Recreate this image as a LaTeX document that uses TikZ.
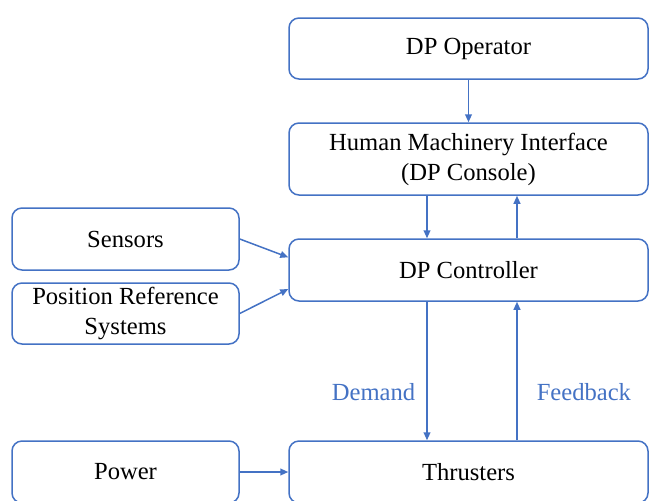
\documentclass[tikz,border=0pt]{standalone}
\usepackage{fontspec}
\setmainfont{Liberation Serif}
\usetikzlibrary{arrows.meta,calc}
\definecolor{dpblue}{HTML}{4472C4}
\tikzset{
  block/.style={draw=dpblue, line width=0.75pt, rounded corners=5pt, align=center,
    inner sep=0pt, font=\fontsize{12.3}{15}\selectfont},
  link/.style={draw=dpblue, line width=0.75pt, -{Triangle[length=4pt,width=3.4pt]}},
  tag/.style={text=dpblue, inner sep=0pt, font=\fontsize{12.3}{15}\selectfont}
}
\begin{document}
\begin{tikzpicture}[x=0.5pt,y=-0.5pt]
  \useasboundingbox (0,0) rectangle (649,500);
  \clip (0,0) rectangle (649,500);

  % right column
  \node[block, minimum width=179.5pt, minimum height=30.5pt] (op) at (468.5,48.5) {DP Operator};
  \node[block, minimum width=179.5pt, minimum height=36pt] (hmi) at (468.5,159) {Human Machinery Interface\\(DP Console)};
  \node[block, minimum width=179.5pt, minimum height=31pt] (ctrl) at (468.5,270) {DP Controller};
  \node[block, minimum width=179.5pt, minimum height=31pt] (thr) at (468.5,472) {Thrusters};

  % left column
  \node[block, minimum width=113.5pt, minimum height=31pt] (sens) at (125.5,239) {Sensors};
  \node[block, minimum width=113.5pt, minimum height=30.5pt] (prs) at (125.5,313.5) {Position Reference\\Systems};
  \node[block, minimum width=113.5pt, minimum height=31pt] (pow) at (125.5,472) {Power};

  \coordinate (dn) at (427,0);
  \coordinate (up) at (517,0);

  \draw[link] (op) -- (hmi);
  \draw[link] (hmi.south -| dn) -- (ctrl.north -| dn);
  \draw[link] (ctrl.north -| up) -- (hmi.south -| up);
  \draw[link] (ctrl.south -| dn) -- node[tag, pos=0.65, left=5.5pt] {Demand} (thr.north -| dn);
  \draw[link] (thr.north -| up) -- node[tag, pos=0.35, right=9.5pt] {Feedback} (ctrl.south -| up);

  \draw[link] (sens.east) -- ($(ctrl.west)!0.4!(ctrl.north west)$);
  \draw[link] (prs.east) -- ($(ctrl.west)!0.6!(ctrl.south west)$);
  \draw[link] (pow) -- (thr);
\end{tikzpicture}
\end{document}
